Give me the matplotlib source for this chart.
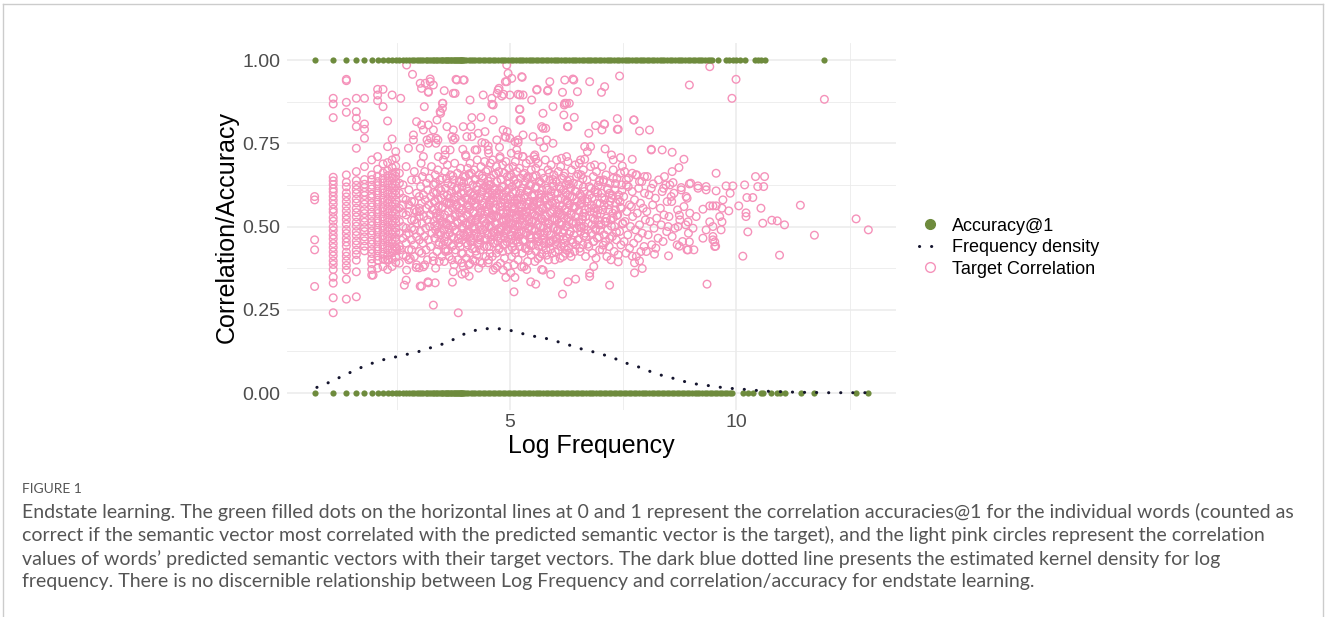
import matplotlib
matplotlib.use('Agg')
import matplotlib.pyplot as plt
from matplotlib.lines import Line2D
from matplotlib.ticker import FixedLocator, FixedFormatter

# --- Accuracy@1 per word (log frequency), correct = 1, wrong = 0 ---
acc_correct_logfreq = [
    0.69, 1.10, 1.39, 1.61, 1.79, 1.95, 2.08, 2.20, 2.30, 2.40, 2.48, 2.56, 2.64, 2.71,
    2.77, 2.83, 2.89, 2.94, 3.00, 3.04, 3.09, 3.14, 3.18, 3.22, 3.26, 3.30, 3.33, 3.37,
    3.40, 3.43, 3.47, 3.50, 3.53, 3.56, 3.58, 3.61, 3.64, 3.66, 3.69, 3.71, 3.74, 3.76,
    3.78, 3.81, 3.83, 3.85, 3.87, 3.89, 3.91, 3.93, 3.95, 3.97, 3.99, 4.04, 4.09, 4.13,
    4.19, 4.24, 4.30, 4.35, 4.41, 4.46, 4.52, 4.57, 4.63, 4.68, 4.74, 4.80, 4.85, 4.90,
    4.96, 5.02, 5.07, 5.13, 5.19, 5.24, 5.29, 5.35, 5.41, 5.46, 5.52, 5.58, 5.63, 5.68,
    5.74, 5.80, 5.85, 5.91, 5.97, 6.02, 6.07, 6.13, 6.19, 6.24, 6.30, 6.36, 6.41, 6.46,
    6.52, 6.58, 6.63, 6.69, 6.75, 6.80, 6.85, 6.91, 6.97, 7.02, 7.08, 7.14, 7.19, 7.24,
    7.30, 7.36, 7.41, 7.47, 7.53, 7.58, 7.63, 7.69, 7.75, 7.80, 7.86, 7.92, 7.97, 8.02,
    8.08, 8.14, 8.19, 8.25, 8.31, 8.36, 8.41, 8.47, 8.53, 8.58, 8.64, 8.70, 8.75, 8.80,
    8.86, 8.92, 8.97, 9.03, 9.09, 9.14, 9.19, 9.25, 9.31, 9.37, 9.42, 9.47, 9.59, 9.77,
    9.84, 9.92, 9.99, 10.07, 10.18, 10.40, 10.47, 10.54, 10.62, 11.94]
acc_wrong_logfreq = [
    0.69, 1.10, 1.39, 1.61, 1.79, 1.95, 2.08, 2.20, 2.30, 2.40, 2.48, 2.56, 2.64, 2.71,
    2.77, 2.83, 2.89, 2.94, 3.00, 3.04, 3.09, 3.14, 3.18, 3.22, 3.26, 3.30, 3.33, 3.37,
    3.40, 3.43, 3.47, 3.50, 3.53, 3.56, 3.58, 3.61, 3.64, 3.66, 3.69, 3.71, 3.74, 3.76,
    3.78, 3.81, 3.83, 3.85, 3.87, 3.89, 3.91, 3.93, 3.95, 3.97, 3.99, 4.03, 4.08, 4.14,
    4.18, 4.23, 4.29, 4.34, 4.40, 4.45, 4.51, 4.56, 4.62, 4.67, 4.73, 4.79, 4.84, 4.89,
    4.95, 5.01, 5.06, 5.12, 5.18, 5.23, 5.28, 5.34, 5.40, 5.45, 5.51, 5.57, 5.62, 5.67,
    5.73, 5.79, 5.84, 5.90, 5.96, 6.01, 6.06, 6.12, 6.18, 6.23, 6.29, 6.35, 6.40, 6.45,
    6.51, 6.57, 6.62, 6.68, 6.74, 6.79, 6.84, 6.90, 6.96, 7.01, 7.07, 7.13, 7.18, 7.23,
    7.29, 7.35, 7.40, 7.46, 7.52, 7.57, 7.62, 7.68, 7.74, 7.79, 7.85, 7.91, 7.96, 8.01,
    8.07, 8.13, 8.18, 8.24, 8.30, 8.35, 8.40, 8.46, 8.52, 8.57, 8.63, 8.69, 8.74, 8.79,
    8.85, 8.91, 8.96, 9.02, 9.08, 9.13, 9.18, 9.24, 9.30, 9.36, 9.41, 9.46, 9.52, 9.57,
    9.63, 9.68, 9.74, 9.79, 9.85, 9.91, 10.14, 10.25, 10.36, 10.54, 10.58, 10.76, 10.90,
    10.95, 11.07, 11.43, 11.72, 12.64, 12.91]

# --- kernel density of log frequency ---
density_logfreq = [
    0.74, 0.96, 1.18, 1.40, 1.62, 1.84, 2.06, 2.28, 2.50, 2.72, 2.98, 3.09, 3.35, 3.57,
    3.79, 3.97, 4.23, 4.45, 4.67, 4.93, 5.15, 5.37, 5.51, 5.73, 5.95, 6.17, 6.39, 6.61,
    6.86, 7.09, 7.31, 7.53, 7.78, 7.86, 8.11, 8.33, 8.56, 8.78, 9.02, 9.26, 9.48, 9.70,
    9.96, 10.17, 10.51, 10.73, 10.98, 11.20, 11.46, 11.68, 11.94, 12.16, 12.40, 12.64, 12.89]
density_value = [
    0.017, 0.029, 0.043, 0.057, 0.071, 0.084, 0.094, 0.103, 0.109, 0.116, 0.124, 0.131,
    0.139, 0.150, 0.163, 0.176, 0.188, 0.193, 0.194, 0.191, 0.183, 0.175, 0.171, 0.166,
    0.159, 0.149, 0.141, 0.131, 0.123, 0.114, 0.104, 0.091, 0.082, 0.077, 0.064, 0.054,
    0.046, 0.037, 0.029, 0.024, 0.021, 0.016, 0.013, 0.011, 0.007, 0.005, 0.004, 0.003,
    0.002, 0.002, 0.001, 0.001, 0.001, 0.001, 0.001]

# --- target correlation: rare words sit in columns (one per raw count) ---
corr_n2 = [0.59, 0.58, 0.46, 0.43, 0.32]
corr_n3 = [0.885, 0.868, 0.827, 0.648, 0.637, 0.626, 0.613, 0.604, 0.591, 0.579, 0.567,
           0.552, 0.543, 0.527, 0.516, 0.499, 0.488, 0.474, 0.463, 0.449, 0.437, 0.424,
           0.412, 0.397, 0.386, 0.371, 0.348, 0.330, 0.286, 0.241]
corr_n4 = [0.942, 0.938, 0.873, 0.843, 0.655, 0.633, 0.619, 0.601, 0.589, 0.575, 0.561,
           0.547, 0.533, 0.521, 0.507, 0.491, 0.479, 0.465, 0.453, 0.441, 0.423, 0.411,
           0.397, 0.383, 0.369, 0.342, 0.282]
corr_n5 = [0.885, 0.845, 0.825, 0.800, 0.735, 0.665, 0.638, 0.624, 0.611, 0.599, 0.583,
           0.571, 0.555, 0.542, 0.529, 0.513, 0.501, 0.485, 0.473, 0.457, 0.445, 0.429,
           0.416, 0.399, 0.364, 0.289]
corr_n6 = [0.885, 0.808, 0.792, 0.765, 0.680, 0.641, 0.627, 0.617, 0.603, 0.593, 0.579,
           0.567, 0.551, 0.539, 0.525, 0.513, 0.497, 0.485, 0.469, 0.457, 0.441, 0.427]
corr_n7 = [0.700, 0.655, 0.641, 0.624, 0.613, 0.597, 0.587, 0.571, 0.559, 0.543, 0.531,
           0.515, 0.503, 0.487, 0.475, 0.459, 0.447, 0.431, 0.419, 0.403, 0.389, 0.371, 0.354]
corr_n8 = [0.912, 0.895, 0.878, 0.710, 0.672, 0.651, 0.635, 0.623, 0.607, 0.595, 0.579,
           0.567, 0.551, 0.539, 0.523, 0.511, 0.495, 0.483, 0.467, 0.455, 0.439, 0.427,
           0.411, 0.399, 0.375]
corr_n9 = [0.912, 0.860, 0.688, 0.661, 0.644, 0.631, 0.614, 0.601, 0.585, 0.573, 0.557,
           0.545, 0.529, 0.517, 0.501, 0.489, 0.473, 0.461, 0.445, 0.433, 0.417, 0.403, 0.380]
corr_n10 = [0.817, 0.740, 0.692, 0.667, 0.653, 0.637, 0.625, 0.609, 0.597, 0.581, 0.569,
            0.553, 0.541, 0.525, 0.513, 0.497, 0.485, 0.469, 0.457, 0.441, 0.429, 0.413,
            0.400, 0.371]
corr_n11 = [0.895, 0.763, 0.700, 0.677, 0.659, 0.646, 0.629, 0.617, 0.601, 0.589, 0.573,
            0.561, 0.545, 0.533, 0.517, 0.505, 0.489, 0.477, 0.461, 0.449, 0.433, 0.421,
            0.404, 0.380]
corr_n12 = [0.725, 0.705, 0.681, 0.663, 0.651, 0.635, 0.623, 0.607, 0.595, 0.579, 0.567,
            0.551, 0.539, 0.523, 0.511, 0.495, 0.483, 0.467, 0.455, 0.439, 0.427, 0.409, 0.392]
column_logfreq = [0.69, 1.10, 1.39, 1.61, 1.79, 1.95, 2.08, 2.20, 2.30, 2.40, 2.48]
column_corr = [corr_n2, corr_n3, corr_n4, corr_n5, corr_n6, corr_n7, corr_n8, corr_n9,
               corr_n10, corr_n11, corr_n12]

# --- target correlation: main body, (log frequency, correlation) ---
corr_core_a = [
    (2.56, 0.66), (2.94, 0.64), (2.64, 0.625), (2.77, 0.61), (2.56, 0.60), (3.00, 0.59),
    (2.71, 0.58), (2.83, 0.575), (2.64, 0.565), (2.56, 0.555), (2.89, 0.55), (2.77, 0.545),
    (2.71, 0.535), (3.00, 0.53), (2.83, 0.52), (2.56, 0.515), (2.94, 0.51), (2.64, 0.50),
    (2.71, 0.495), (2.89, 0.49), (2.56, 0.48), (2.77, 0.48), (2.94, 0.47), (2.64, 0.465),
    (2.83, 0.46), (2.71, 0.45), (2.89, 0.445), (2.56, 0.44), (2.77, 0.43), (3.00, 0.425),
    (2.64, 0.415), (2.89, 0.41), (2.77, 0.40), (2.56, 0.39), (2.94, 0.385), (2.71, 0.68),
    (2.89, 0.665), (2.83, 0.64), (2.94, 0.60), (2.64, 0.585), (2.89, 0.575), (2.77, 0.565),
    (3.00, 0.555), (2.83, 0.495), (2.71, 0.475), (3.00, 0.46), (2.83, 0.43), (2.71, 0.41),
    (2.56, 0.63), (2.64, 0.54), (2.89, 0.52), (2.94, 0.545),
    (3.04, 0.69), (3.27, 0.68), (3.41, 0.67), (3.12, 0.665), (3.35, 0.655), (3.07, 0.65),
    (3.22, 0.645), (3.46, 0.64), (3.16, 0.63), (3.31, 0.625), (3.03, 0.62), (3.44, 0.615),
    (3.19, 0.61), (3.38, 0.60), (3.09, 0.595), (3.26, 0.59), (3.48, 0.585), (3.13, 0.58),
    (3.33, 0.575), (3.05, 0.57), (3.21, 0.565), (3.42, 0.56), (3.15, 0.555), (3.29, 0.55),
    (3.01, 0.545), (3.37, 0.54), (3.24, 0.535), (3.10, 0.53), (3.45, 0.525), (3.18, 0.52),
    (3.32, 0.515), (3.06, 0.51), (3.40, 0.505), (3.23, 0.50), (3.14, 0.495), (3.36, 0.49),
    (3.02, 0.485), (3.28, 0.48), (3.47, 0.475), (3.11, 0.47), (3.34, 0.465), (3.20, 0.46),
    (3.08, 0.45), (3.43, 0.445), (3.25, 0.44), (3.15, 0.43), (3.39, 0.425), (3.05, 0.42),
    (3.30, 0.41), (3.18, 0.40), (3.44, 0.395), (3.12, 0.385), (3.36, 0.375),
    (3.53, 0.70), (3.78, 0.69), (3.62, 0.685), (3.91, 0.675), (3.57, 0.665), (3.84, 0.66),
    (3.69, 0.655), (3.97, 0.65), (3.51, 0.645), (3.75, 0.64), (3.88, 0.635), (3.63, 0.63),
    (3.94, 0.62), (3.58, 0.615), (3.81, 0.61), (3.71, 0.605), (3.99, 0.60), (3.54, 0.595),
    (3.86, 0.59), (3.66, 0.585), (3.77, 0.58), (3.92, 0.575), (3.60, 0.57), (3.83, 0.565),
    (3.52, 0.56), (3.73, 0.555), (3.96, 0.55), (3.64, 0.545), (3.89, 0.54), (3.56, 0.535),
    (3.79, 0.53), (3.68, 0.525), (3.93, 0.52), (3.50, 0.515), (3.85, 0.51), (3.61, 0.505),
    (3.74, 0.50), (3.98, 0.495), (3.55, 0.49), (3.82, 0.485), (3.67, 0.48), (3.90, 0.475),
    (3.59, 0.47), (3.76, 0.465), (3.95, 0.46), (3.63, 0.455), (3.87, 0.45), (3.52, 0.445),
    (3.72, 0.44), (3.80, 0.43), (3.58, 0.425), (3.93, 0.42), (3.66, 0.41), (3.85, 0.40),
    (3.55, 0.395), (3.77, 0.385), (3.97, 0.38), (3.70, 0.57), (3.88, 0.555), (3.60, 0.51)]
corr_core_b = [
    (4.03, 0.71), (4.28, 0.70), (4.44, 0.695), (4.12, 0.69), (4.36, 0.68), (4.07, 0.675),
    (4.21, 0.67), (4.47, 0.665), (4.15, 0.66), (4.32, 0.655), (4.02, 0.65), (4.40, 0.645),
    (4.24, 0.64), (4.09, 0.635), (4.34, 0.63), (4.18, 0.625), (4.46, 0.62), (4.05, 0.615),
    (4.27, 0.61), (4.38, 0.605), (4.13, 0.60), (4.22, 0.595), (4.49, 0.59), (4.01, 0.585),
    (4.31, 0.58), (4.16, 0.575), (4.42, 0.57), (4.08, 0.565), (4.26, 0.56), (4.35, 0.555),
    (4.11, 0.55), (4.45, 0.545), (4.19, 0.54), (4.04, 0.535), (4.30, 0.53), (4.39, 0.525),
    (4.14, 0.52), (4.23, 0.515), (4.48, 0.51), (4.06, 0.505), (4.33, 0.50), (4.17, 0.495),
    (4.41, 0.49), (4.10, 0.485), (4.25, 0.48), (4.37, 0.475), (4.02, 0.47), (4.20, 0.465),
    (4.46, 0.46), (4.13, 0.455), (4.29, 0.45), (4.07, 0.445), (4.43, 0.44), (4.22, 0.435),
    (4.35, 0.43), (4.11, 0.42), (4.27, 0.415), (4.47, 0.41), (4.04, 0.405), (4.18, 0.40),
    (4.39, 0.39), (4.09, 0.385), (4.31, 0.375), (4.16, 0.58), (4.36, 0.545), (4.05, 0.56),
    (4.28, 0.525), (4.44, 0.50), (4.12, 0.47), (4.40, 0.605), (4.21, 0.50), (4.33, 0.46),
    (4.02, 0.51), (4.48, 0.56), (4.24, 0.585),
    (4.53, 0.72), (4.78, 0.71), (4.62, 0.70), (4.91, 0.695), (4.57, 0.69), (4.84, 0.685),
    (4.70, 0.68), (4.97, 0.675), (4.51, 0.67), (4.75, 0.665), (4.88, 0.66), (4.64, 0.655),
    (4.94, 0.65), (4.58, 0.645), (4.81, 0.64), (4.71, 0.635), (4.99, 0.63), (4.54, 0.625),
    (4.86, 0.62), (4.66, 0.615), (4.77, 0.61), (4.92, 0.605), (4.60, 0.60), (4.83, 0.595),
    (4.52, 0.59), (4.73, 0.585), (4.96, 0.58), (4.64, 0.575), (4.89, 0.57), (4.56, 0.565),
    (4.79, 0.56), (4.68, 0.555), (4.93, 0.55), (4.50, 0.545), (4.85, 0.54), (4.61, 0.535),
    (4.74, 0.53), (4.98, 0.525), (4.55, 0.52), (4.82, 0.515), (4.67, 0.51), (4.90, 0.505),
    (4.59, 0.50), (4.76, 0.495), (4.95, 0.49), (4.63, 0.485), (4.87, 0.48), (4.52, 0.475),
    (4.72, 0.47), (4.80, 0.465), (4.58, 0.46), (4.93, 0.455), (4.66, 0.45), (4.85, 0.445),
    (4.55, 0.44), (4.77, 0.435), (4.97, 0.43), (4.70, 0.42), (4.61, 0.41), (4.88, 0.405),
    (4.53, 0.40), (4.79, 0.39), (4.95, 0.38), (4.68, 0.375), (4.57, 0.58), (4.83, 0.56),
    (4.69, 0.53), (4.92, 0.52), (4.54, 0.50), (4.74, 0.485), (4.99, 0.50), (4.62, 0.55),
    (4.86, 0.58), (4.71, 0.60), (4.51, 0.615), (4.94, 0.545), (4.65, 0.47), (4.81, 0.49),
    (4.60, 0.525), (4.90, 0.465),
    (5.03, 0.72), (5.28, 0.71), (5.44, 0.70), (5.12, 0.695), (5.36, 0.69), (5.07, 0.68),
    (5.21, 0.675), (5.47, 0.67), (5.15, 0.665), (5.32, 0.66), (5.02, 0.655), (5.40, 0.65),
    (5.24, 0.645), (5.09, 0.64), (5.34, 0.635), (5.18, 0.63), (5.46, 0.625), (5.05, 0.62),
    (5.27, 0.615), (5.38, 0.61), (5.13, 0.605), (5.22, 0.60), (5.49, 0.595), (5.01, 0.59),
    (5.31, 0.585), (5.16, 0.58), (5.42, 0.575), (5.08, 0.57), (5.26, 0.565), (5.35, 0.56),
    (5.11, 0.555), (5.45, 0.55), (5.19, 0.545), (5.04, 0.54), (5.30, 0.535), (5.39, 0.53),
    (5.14, 0.525), (5.23, 0.52), (5.48, 0.515), (5.06, 0.51), (5.33, 0.505), (5.17, 0.50),
    (5.41, 0.495), (5.10, 0.49), (5.25, 0.485), (5.37, 0.48), (5.02, 0.475), (5.20, 0.47),
    (5.46, 0.465), (5.13, 0.46), (5.29, 0.455), (5.07, 0.45), (5.43, 0.445), (5.22, 0.44),
    (5.35, 0.435), (5.11, 0.43), (5.27, 0.42), (5.47, 0.415), (5.04, 0.41), (5.18, 0.40),
    (5.39, 0.395), (5.09, 0.385), (5.31, 0.38), (5.16, 0.57), (5.36, 0.545), (5.05, 0.56),
    (5.28, 0.525), (5.44, 0.50), (5.12, 0.47), (5.40, 0.605), (5.21, 0.50), (5.33, 0.46),
    (5.02, 0.51), (5.48, 0.56), (5.24, 0.585), (5.14, 0.535), (5.38, 0.515), (5.08, 0.495),
    (5.45, 0.475), (5.26, 0.545)]
corr_core_c = [
    (5.53, 0.71), (5.78, 0.70), (5.62, 0.69), (5.91, 0.685), (5.57, 0.675), (5.84, 0.67),
    (5.70, 0.66), (5.97, 0.655), (5.51, 0.65), (5.75, 0.645), (5.88, 0.64), (5.64, 0.635),
    (5.94, 0.63), (5.58, 0.62), (5.81, 0.615), (5.71, 0.61), (5.99, 0.60), (5.54, 0.595),
    (5.86, 0.59), (5.66, 0.585), (5.77, 0.58), (5.92, 0.575), (5.60, 0.57), (5.83, 0.565),
    (5.52, 0.56), (5.73, 0.555), (5.96, 0.55), (5.64, 0.545), (5.89, 0.54), (5.56, 0.535),
    (5.79, 0.53), (5.68, 0.525), (5.93, 0.52), (5.50, 0.515), (5.85, 0.51), (5.61, 0.505),
    (5.74, 0.50), (5.98, 0.495), (5.55, 0.49), (5.82, 0.485), (5.67, 0.48), (5.90, 0.475),
    (5.59, 0.47), (5.76, 0.465), (5.95, 0.46), (5.63, 0.455), (5.87, 0.45), (5.52, 0.445),
    (5.72, 0.44), (5.80, 0.43), (5.58, 0.425), (5.93, 0.42), (5.66, 0.41), (5.85, 0.40),
    (5.55, 0.395), (5.70, 0.555), (5.88, 0.565), (5.60, 0.53), (5.77, 0.515), (5.97, 0.525),
    (5.53, 0.575), (5.84, 0.495), (5.69, 0.595), (5.91, 0.605), (5.62, 0.475), (5.79, 0.455),
    (6.03, 0.70), (6.28, 0.695), (6.44, 0.685), (6.12, 0.68), (6.36, 0.67), (6.07, 0.665),
    (6.21, 0.66), (6.47, 0.65), (6.15, 0.645), (6.32, 0.64), (6.02, 0.635), (6.40, 0.63),
    (6.24, 0.625), (6.09, 0.62), (6.34, 0.615), (6.18, 0.61), (6.46, 0.605), (6.05, 0.60),
    (6.27, 0.595), (6.38, 0.59), (6.13, 0.585), (6.22, 0.58), (6.49, 0.575), (6.01, 0.57),
    (6.31, 0.565), (6.16, 0.56), (6.42, 0.555), (6.08, 0.55), (6.26, 0.545), (6.35, 0.54),
    (6.11, 0.535), (6.45, 0.53), (6.19, 0.525), (6.04, 0.52), (6.30, 0.515), (6.39, 0.51),
    (6.14, 0.505), (6.23, 0.50), (6.48, 0.495), (6.06, 0.49), (6.33, 0.485), (6.17, 0.48),
    (6.41, 0.475), (6.10, 0.47), (6.25, 0.465), (6.37, 0.46), (6.02, 0.455), (6.20, 0.45),
    (6.46, 0.445), (6.13, 0.44), (6.29, 0.435), (6.07, 0.43), (6.43, 0.425), (6.22, 0.42),
    (6.35, 0.41), (6.11, 0.405), (6.27, 0.57), (6.16, 0.535), (6.40, 0.515), (6.05, 0.545),
    (6.32, 0.59), (6.19, 0.49), (6.44, 0.56), (6.09, 0.51),
    (6.53, 0.69), (6.78, 0.68), (6.62, 0.67), (6.91, 0.665), (6.57, 0.655), (6.84, 0.65),
    (6.70, 0.64), (6.97, 0.635), (6.51, 0.625), (6.75, 0.62), (6.88, 0.61), (6.64, 0.605),
    (6.94, 0.60), (6.58, 0.59), (6.81, 0.585), (6.71, 0.575), (6.99, 0.57), (6.54, 0.565),
    (6.86, 0.555), (6.66, 0.55), (6.77, 0.545), (6.92, 0.535), (6.60, 0.53), (6.83, 0.525),
    (6.52, 0.515), (6.73, 0.51), (6.96, 0.505), (6.64, 0.50), (6.89, 0.49), (6.56, 0.485),
    (6.79, 0.48), (6.68, 0.47), (6.93, 0.465), (6.50, 0.46), (6.85, 0.455), (6.61, 0.445),
    (6.74, 0.44), (6.98, 0.43), (6.55, 0.425), (6.82, 0.42), (6.67, 0.41), (6.90, 0.405),
    (6.59, 0.58), (6.76, 0.595), (6.87, 0.52), (6.63, 0.54), (6.95, 0.55), (6.72, 0.49),
    (6.53, 0.50), (6.80, 0.565)]
corr_core_d = [
    (7.03, 0.68), (7.28, 0.67), (7.44, 0.66), (7.12, 0.655), (7.36, 0.645), (7.07, 0.64),
    (7.21, 0.63), (7.47, 0.625), (7.15, 0.615), (7.32, 0.61), (7.02, 0.60), (7.40, 0.595),
    (7.24, 0.585), (7.09, 0.58), (7.34, 0.57), (7.18, 0.565), (7.46, 0.555), (7.05, 0.55),
    (7.27, 0.54), (7.38, 0.535), (7.13, 0.525), (7.22, 0.52), (7.49, 0.51), (7.01, 0.505),
    (7.31, 0.50), (7.16, 0.49), (7.42, 0.485), (7.08, 0.475), (7.26, 0.47), (7.35, 0.46),
    (7.11, 0.455), (7.45, 0.445), (7.19, 0.44), (7.04, 0.43), (7.30, 0.425), (7.39, 0.415),
    (7.14, 0.41), (7.23, 0.40), (7.33, 0.55), (7.10, 0.515), (7.43, 0.575), (7.20, 0.60),
    (7.53, 0.665), (7.78, 0.655), (7.62, 0.645), (7.91, 0.635), (7.57, 0.625), (7.84, 0.615),
    (7.70, 0.605), (7.97, 0.60), (7.51, 0.59), (7.75, 0.58), (7.88, 0.57), (7.64, 0.565),
    (7.94, 0.555), (7.58, 0.545), (7.81, 0.54), (7.71, 0.53), (7.99, 0.52), (7.54, 0.515),
    (7.86, 0.505), (7.66, 0.50), (7.77, 0.49), (7.92, 0.48), (7.60, 0.475), (7.83, 0.465),
    (7.52, 0.455), (7.73, 0.45), (7.96, 0.44), (7.64, 0.435), (7.89, 0.425), (7.56, 0.42),
    (7.79, 0.41), (7.68, 0.56),
    (8.03, 0.65), (8.28, 0.64), (8.44, 0.625), (8.12, 0.615), (8.36, 0.605), (8.07, 0.595),
    (8.21, 0.585), (8.47, 0.575), (8.15, 0.565), (8.32, 0.555), (8.02, 0.545), (8.40, 0.535),
    (8.24, 0.525), (8.09, 0.515), (8.34, 0.505), (8.18, 0.495), (8.46, 0.485), (8.05, 0.475),
    (8.27, 0.465), (8.38, 0.455), (8.13, 0.445), (8.22, 0.435), (8.49, 0.50), (8.01, 0.425),
    (8.53, 0.625), (8.78, 0.61), (8.62, 0.60), (8.91, 0.585), (8.57, 0.575), (8.84, 0.56),
    (8.70, 0.55), (8.97, 0.54), (8.51, 0.53), (8.75, 0.52), (8.88, 0.505), (8.64, 0.495),
    (8.94, 0.48), (8.58, 0.47), (8.81, 0.455), (8.69, 0.445)]
# densest part of the cloud
corr_core_e = [
    (3.36, 0.629), (3.71, 0.622), (3.98, 0.631), (4.27, 0.620), (4.58, 0.626), (4.83, 0.619),
    (5.14, 0.628), (5.43, 0.623), (5.69, 0.630), (5.96, 0.621), (6.31, 0.627), (6.62, 0.618),
    (6.95, 0.624), (7.33, 0.629), (3.48, 0.608), (3.83, 0.615), (4.08, 0.606), (4.41, 0.617),
    (4.66, 0.610), (4.97, 0.614), (5.25, 0.607), (5.56, 0.616), (5.83, 0.609), (6.12, 0.613),
    (6.44, 0.606), (6.79, 0.615), (7.16, 0.611), (7.47, 0.608), (3.31, 0.602), (3.62, 0.595),
    (3.92, 0.601), (4.19, 0.593), (4.51, 0.600), (4.76, 0.596), (5.06, 0.603), (5.33, 0.594),
    (5.64, 0.599), (5.91, 0.592), (6.23, 0.601), (6.55, 0.597), (6.88, 0.603), (7.26, 0.594),
    (3.42, 0.583), (3.77, 0.589), (4.05, 0.581), (4.34, 0.590), (4.62, 0.584), (4.91, 0.588),
    (5.19, 0.580), (5.49, 0.591), (5.77, 0.585), (6.06, 0.582), (6.37, 0.589), (6.71, 0.583),
    (7.03, 0.587), (7.39, 0.581), (3.35, 0.577), (3.66, 0.570), (3.95, 0.576), (4.24, 0.569),
    (4.55, 0.575), (4.80, 0.571), (5.10, 0.578), (5.39, 0.568), (5.66, 0.574), (5.94, 0.570),
    (6.26, 0.577), (6.58, 0.572), (6.92, 0.569), (7.21, 0.576), (3.50, 0.557), (3.81, 0.564),
    (4.10, 0.558), (4.38, 0.565), (4.69, 0.556), (4.95, 0.562), (5.23, 0.559), (5.52, 0.566),
    (5.81, 0.557), (6.10, 0.563), (6.41, 0.560), (6.74, 0.555), (7.08, 0.564), (7.44, 0.558),
    (3.33, 0.552), (3.64, 0.545), (3.93, 0.551), (4.21, 0.544), (4.53, 0.550), (4.78, 0.546),
    (5.08, 0.553), (5.37, 0.543), (5.62, 0.549), (5.92, 0.545), (6.21, 0.552), (6.52, 0.547),
    (6.86, 0.544), (7.18, 0.551), (3.46, 0.532), (3.79, 0.539), (4.07, 0.533), (4.36, 0.540),
    (4.64, 0.531), (4.93, 0.537), (5.21, 0.534), (5.50, 0.541), (5.78, 0.532), (6.07, 0.538),
    (6.35, 0.535), (6.67, 0.530), (7.00, 0.539), (7.36, 0.533), (3.38, 0.527), (3.69, 0.520),
    (3.97, 0.526), (4.26, 0.519), (4.57, 0.525), (4.86, 0.521), (5.13, 0.528), (5.42, 0.518),
    (5.71, 0.524), (5.99, 0.520), (6.28, 0.527), (6.60, 0.522), (6.94, 0.519), (7.28, 0.526),
    (3.53, 0.507), (3.84, 0.514), (4.12, 0.508), (4.43, 0.515), (4.71, 0.506), (4.98, 0.512),
    (5.27, 0.509), (5.57, 0.516), (5.86, 0.507), (6.14, 0.513), (6.46, 0.510), (6.81, 0.505),
    (7.12, 0.514), (7.49, 0.508), (3.34, 0.502), (3.65, 0.495), (3.94, 0.501), (4.23, 0.494),
    (4.54, 0.500), (4.81, 0.496), (5.11, 0.503), (5.40, 0.493), (5.67, 0.499), (5.95, 0.495),
    (6.25, 0.502), (6.57, 0.497), (6.90, 0.494), (7.24, 0.501), (3.47, 0.482), (3.78, 0.489),
    (4.06, 0.483), (4.35, 0.490), (4.65, 0.481), (4.92, 0.487), (5.20, 0.484), (5.48, 0.491),
    (5.76, 0.482), (6.04, 0.488), (6.33, 0.485), (6.66, 0.480), (6.99, 0.489), (7.35, 0.483),
    (3.40, 0.477), (3.72, 0.470), (4.00, 0.476), (4.29, 0.469), (4.60, 0.475), (4.87, 0.471),
    (5.16, 0.478), (5.45, 0.468), (5.73, 0.474), (6.01, 0.470), (6.30, 0.477), (6.63, 0.472),
    (6.97, 0.469), (3.55, 0.457), (3.86, 0.464), (4.15, 0.458), (4.46, 0.465), (4.73, 0.456),
    (5.02, 0.462), (5.30, 0.459), (5.59, 0.466), (5.88, 0.457), (6.18, 0.463), (6.50, 0.460),
    (6.84, 0.455), (7.20, 0.464), (3.44, 0.452), (3.75, 0.445), (4.03, 0.451), (4.32, 0.444),
    (4.63, 0.450), (4.89, 0.446), (5.18, 0.453), (5.47, 0.443), (5.75, 0.449), (6.03, 0.445),
    (6.39, 0.452), (6.72, 0.447), (7.06, 0.444), (3.58, 0.432), (3.90, 0.439), (4.17, 0.433),
    (4.49, 0.440), (4.75, 0.431), (5.05, 0.437), (5.34, 0.434), (5.63, 0.441), (5.90, 0.432),
    (6.20, 0.438), (6.54, 0.435), (3.63, 0.427), (3.96, 0.420), (4.25, 0.426), (4.56, 0.419),
    (4.84, 0.425), (5.12, 0.421), (5.41, 0.428), (5.70, 0.418), (6.00, 0.424), (6.32, 0.420),
    (3.60, 0.644), (3.93, 0.637), (4.23, 0.643), (4.52, 0.636), (4.80, 0.642), (5.09, 0.638),
    (5.38, 0.645), (5.66, 0.635), (5.95, 0.641), (6.27, 0.637), (6.61, 0.644), (6.98, 0.639),
    (3.74, 0.651), (4.10, 0.658), (4.39, 0.652), (4.69, 0.659), (4.99, 0.650), (5.29, 0.656),
    (5.58, 0.653), (5.87, 0.660), (6.19, 0.651), (6.51, 0.657)]

# --- target correlation: scattered high values ---
corr_upper = [
    (2.72, 0.985), (2.85, 0.957), (3.02, 0.93), (3.05, 0.915), (3.20, 0.905), (3.24, 0.935),
    (3.31, 0.925), (3.11, 0.86), (3.39, 0.82), (3.46, 0.845), (3.52, 0.87), (3.55, 0.908),
    (2.94, 0.815), (3.05, 0.805), (3.09, 0.79), (2.87, 0.775), (2.87, 0.76), (3.02, 0.735),
    (3.20, 0.75), (3.41, 0.76), (3.25, 0.765), (2.59, 0.885), (2.76, 0.735), (3.83, 0.94),
    (3.97, 0.94), (3.99, 0.94), (3.75, 0.90), (4.12, 0.88), (4.16, 0.827), (4.41, 0.895),
    (4.60, 0.885), (4.63, 0.865), (4.74, 0.91), (4.82, 0.892), (4.93, 0.985), (4.96, 0.96),
    (5.04, 0.945), (5.26, 0.95), (4.93, 0.935), (5.00, 0.895), (5.22, 0.895), (5.29, 0.895),
    (5.21, 0.852), (5.24, 0.82), (5.48, 0.88), (5.59, 0.91), (5.84, 0.91), (5.88, 0.935),
    (5.73, 0.84), (5.95, 0.86), (3.97, 0.80), (4.05, 0.77), (4.30, 0.78), (4.45, 0.785),
    (4.63, 0.82), (4.71, 0.76), (4.85, 0.79), (4.89, 0.77), (5.00, 0.765), (5.11, 0.755),
    (5.29, 0.775), (5.51, 0.77), (5.66, 0.755), (5.81, 0.76), (5.95, 0.75), (3.61, 0.80),
    (3.75, 0.76), (3.68, 0.73), (4.23, 0.73), (4.45, 0.75), (9.41, 0.98), (8.96, 0.925),
    (9.99, 0.942), (9.90, 0.885), (11.94, 0.882), (7.42, 0.952), (6.21, 0.94), (6.39, 0.943),
    (6.76, 0.935), (7.09, 0.92), (7.02, 0.903), (6.16, 0.903), (6.49, 0.905), (6.21, 0.87),
    (6.31, 0.87), (6.19, 0.835), (6.42, 0.828), (6.28, 0.80), (7.37, 0.824), (7.74, 0.82),
    (7.09, 0.807), (7.03, 0.79), (7.37, 0.792), (7.86, 0.787), (8.08, 0.79), (6.74, 0.78),
    (5.73, 0.795), (5.75, 0.737), (6.65, 0.74), (6.78, 0.74), (6.71, 0.725), (7.10, 0.733),
    (8.12, 0.73), (8.36, 0.73), (8.58, 0.723), (8.84, 0.702), (8.73, 0.677), (8.58, 0.665),
    (7.70, 0.702), (3.37, 0.765), (3.37, 0.75), (3.20, 0.805), (3.31, 0.79), (3.75, 0.79),
    (3.72, 0.77), (3.79, 0.765), (4.14, 0.80), (4.16, 0.77), (4.36, 0.828), (4.94, 0.785),
    (4.91, 0.768), (5.18, 0.76), (5.18, 0.752), (5.79, 0.795), (5.70, 0.80), (4.52, 0.742),
    (4.52, 0.73), (4.38, 0.752), (4.77, 0.738), (4.27, 0.73), (3.96, 0.732), (4.02, 0.715),
    (3.57, 0.73), (3.57, 0.715), (3.17, 0.76), (3.09, 0.71), (3.42, 0.71), (5.15, 0.73),
    (5.18, 0.715), (5.29, 0.71), (5.55, 0.715), (5.57, 0.702), (6.14, 0.705), (6.25, 0.71),
    (4.78, 0.705), (3.81, 0.942), (3.24, 0.943), (3.13, 0.93), (3.79, 0.90), (3.20, 0.903),
    (4.60, 0.867), (4.72, 0.90), (4.76, 0.915), (4.86, 0.897), (4.90, 0.935), (5.27, 0.948),
    (5.18, 0.897), (5.60, 0.912), (5.83, 0.907), (3.51, 0.87), (3.51, 0.855), (3.47, 0.84),
    (5.22, 0.852), (5.22, 0.82), (6.20, 0.865), (6.25, 0.87), (6.27, 0.80), (6.41, 0.94),
    (6.89, 0.803), (7.08, 0.808), (7.39, 0.792), (7.73, 0.82), (8.12, 0.732), (7.24, 0.715),
    (7.28, 0.70), (7.44, 0.707), (6.56, 0.70), (6.65, 0.702), (6.87, 0.685), (7.48, 0.682)]

# --- target correlation: right tail and low outliers ---
corr_tail = [
    (7.70, 0.66), (7.80, 0.655), (7.97, 0.65), (8.16, 0.628), (8.41, 0.65), (8.60, 0.632),
    (8.39, 0.615), (8.78, 0.617), (8.96, 0.628), (9.15, 0.622), (9.33, 0.61), (9.55, 0.607),
    (7.86, 0.635), (7.57, 0.64), (7.61, 0.62), (7.28, 0.645), (7.06, 0.635), (9.55, 0.66),
    (10.42, 0.65), (10.62, 0.65), (10.47, 0.62), (10.60, 0.62), (10.18, 0.625), (9.92, 0.622),
    (9.77, 0.622), (11.41, 0.564), (12.64, 0.523), (12.91, 0.49), (11.72, 0.474),
    (11.06, 0.505), (10.90, 0.517), (10.78, 0.519), (10.58, 0.51), (10.54, 0.555),
    (10.25, 0.484), (10.21, 0.541), (10.21, 0.53), (10.05, 0.562), (10.36, 0.587),
    (10.23, 0.587), (9.86, 0.60), (9.70, 0.58), (9.68, 0.555), (9.83, 0.547), (9.68, 0.514),
    (9.48, 0.50), (9.63, 0.53), (9.41, 0.562), (9.33, 0.62), (9.15, 0.615), (8.99, 0.63),
    (8.56, 0.59), (8.89, 0.59), (9.26, 0.552), (9.11, 0.53), (8.93, 0.514), (8.74, 0.534),
    (8.71, 0.50), (9.04, 0.495), (9.33, 0.49), (9.48, 0.47), (9.41, 0.514), (9.48, 0.562),
    (9.55, 0.562), (9.66, 0.49), (9.54, 0.441), (9.48, 0.46), (8.93, 0.43), (10.14, 0.411),
    (10.95, 0.414), (8.74, 0.441), (8.91, 0.43), (9.06, 0.43), (8.96, 0.454), (9.26, 0.465),
    (9.52, 0.454), (9.52, 0.44), (8.19, 0.417), (8.50, 0.412), (9.35, 0.327),
    (3.31, 0.264), (3.86, 0.241), (3.20, 0.331), (3.35, 0.331), (3.05, 0.321), (3.73, 0.333),
    (3.94, 0.357), (4.10, 0.351), (4.01, 0.361), (3.75, 0.364), (3.31, 0.397), (3.09, 0.379),
    (5.09, 0.304), (4.91, 0.347), (5.11, 0.347), (5.02, 0.361), (5.46, 0.334), (5.57, 0.327),
    (6.28, 0.334), (6.16, 0.297), (5.90, 0.356), (5.73, 0.369), (5.37, 0.371), (5.26, 0.379),
    (4.85, 0.369), (4.72, 0.381), (4.63, 0.369), (4.52, 0.391), (4.34, 0.394), (4.23, 0.397),
    (4.12, 0.389), (3.94, 0.391), (3.72, 0.40), (3.50, 0.41), (5.62, 0.404), (5.81, 0.414),
    (5.99, 0.40), (6.17, 0.41), (6.25, 0.43), (6.03, 0.462), (7.20, 0.324), (6.45, 0.342),
    (6.76, 0.36), (6.76, 0.35), (6.85, 0.38), (7.39, 0.394), (7.75, 0.391), (7.70, 0.411),
    (7.75, 0.361), (7.92, 0.374), (7.86, 0.397), (2.50, 0.434), (2.58, 0.43), (2.72, 0.369),
    (2.71, 0.339), (2.67, 0.324), (3.02, 0.321), (3.19, 0.334), (2.93, 0.377), (3.00, 0.376),
    (2.80, 0.404), (2.25, 0.40), (2.32, 0.40), (1.98, 0.354), (5.70, 0.371)]

PINK = '#F592BA'
GREEN = '#6E8B3D'
DOTS = '#15152E'
DOTTED = (0, (0.05, 3.9))

plt.rcParams['font.family'] = ['Liberation Sans', 'DejaVu Sans']

fig = plt.figure(figsize=(13.26, 6.17), dpi=100)
ax = fig.add_axes([0.2164, 0.336, 0.4593, 0.5937])

# pink open circles: all target correlations
xs, ys = [], []
for x, col in zip(column_logfreq, column_corr):
    xs += [x] * len(col)
    ys += col
for group in (corr_core_a, corr_core_b, corr_core_c, corr_core_d, corr_core_e,
              corr_upper, corr_tail):
    xs += [p[0] for p in group]
    ys += [p[1] for p in group]
ax.scatter(xs, ys, s=30, facecolors='none', edgecolors=PINK, linewidths=1.0, zorder=2)

# green filled dots at 1 and 0
ax.scatter(acc_correct_logfreq, [1] * len(acc_correct_logfreq), s=20, color=GREEN,
           linewidths=0, zorder=3)
ax.scatter(acc_wrong_logfreq, [0] * len(acc_wrong_logfreq), s=20, color=GREEN,
           linewidths=0, zorder=3)

# dotted density curve
ax.plot(density_logfreq, density_value, color=DOTS, lw=2.2, linestyle=DOTTED,
        dash_capstyle='round', zorder=4)

ax.set_xlim(0.079, 13.52)
ax.set_ylim(-0.05, 1.05)
for s in ax.spines.values():
    s.set_visible(False)
ax.xaxis.set_major_locator(FixedLocator([5, 10]))
ax.xaxis.set_minor_locator(FixedLocator([2.5, 7.5, 12.5]))
ax.yaxis.set_major_locator(FixedLocator([0, 0.25, 0.5, 0.75, 1.0]))
ax.yaxis.set_major_formatter(FixedFormatter(['0.00', '0.25', '0.50', '0.75', '1.00']))
ax.yaxis.set_minor_locator(FixedLocator([0.125, 0.375, 0.625, 0.875]))
ax.grid(which='major', color='#EBEBEB', lw=1.1, zorder=0)
ax.grid(which='minor', color='#EBEBEB', lw=0.6, zorder=0)
ax.set_axisbelow(True)
ax.tick_params(which='both', length=0, labelsize=14, labelcolor='#4D4D4D')
ax.tick_params(axis='y', pad=4.5)
ax.tick_params(axis='x', pad=3)
ax.set_xlabel('Log Frequency', fontsize=18, labelpad=2)
ax.set_ylabel('Correlation/Accuracy', fontsize=18, labelpad=3)

handles = [
    Line2D([], [], marker='o', linestyle='none', markersize=7, color=GREEN),
    Line2D([], [], color=DOTS, lw=2.2, linestyle=DOTTED, dash_capstyle='round'),
    Line2D([], [], marker='o', linestyle='none', markersize=7, markerfacecolor='none',
           markeredgecolor=PINK, markeredgewidth=1.0),
]
ax.legend(handles, ['Accuracy@1', 'Frequency density', 'Target Correlation'],
          loc='center left', bbox_to_anchor=(1.023, 0.442), frameon=False, fontsize=13,
          borderpad=0, handlelength=1.2, handletextpad=0.6, labelspacing=0.25)

# caption block
fig.text(22 / 1326, 1 - 489 / 617, 'FIGURE 1', fontsize=10, color='#555555',
         family='Lato', va='center')
caption = [
    'Endstate learning. The green filled dots on the horizontal lines at 0 and 1 represent the correlation accuracies@1 for the individual words (counted as',
    'correct if the semantic vector most correlated with the predicted semantic vector is the target), and the light pink circles represent the correlation',
    'values of words\u2019 predicted semantic vectors with their target vectors. The dark blue dotted line presents the estimated kernel density for log',
    'frequency. There is no discernible relationship between Log Frequency and correlation/accuracy for endstate learning.',
]
for i, line in enumerate(caption):
    fig.text(22 / 1326, 1 - (512 + 23.3 * i) / 617, line, fontsize=14, color='#555555',
             family='Lato', va='center')

# thin page frame
fig.add_artist(Line2D([3 / 1326, 3 / 1326], [0, 1 - 4 / 617], transform=fig.transFigure,
                      color='#CCCCCC', lw=1))
fig.add_artist(Line2D([3 / 1326, 1323 / 1326], [1 - 4 / 617, 1 - 4 / 617],
                      transform=fig.transFigure, color='#CCCCCC', lw=1))
fig.add_artist(Line2D([1323 / 1326, 1323 / 1326], [0, 1 - 4 / 617],
                      transform=fig.transFigure, color='#CCCCCC', lw=1))

fig.savefig('out.png', dpi=100)
